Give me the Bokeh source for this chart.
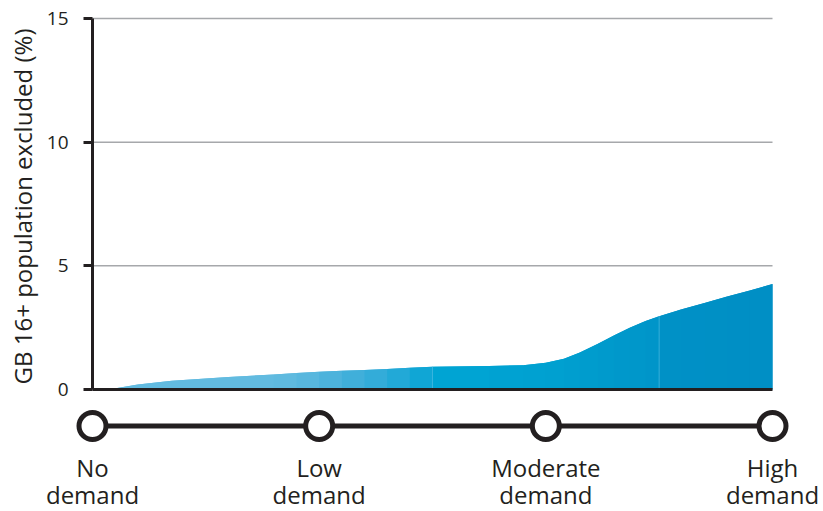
import math
from bokeh.plotting import figure
from bokeh.models import FixedTicker, Range1d, Label
from bokeh.core.properties import value
from bokeh.embed import file_html
from bokeh.resources import INLINE

# ---- data ----
levels = [0, 1, 2, 3]
level_labels = ["No\ndemand", "Low\ndemand", "Moderate\ndemand", "High\ndemand"]
demand = [0.0, 0.07, 0.2, 0.35, 0.6, 0.8, 0.9, 1.0, 1.1, 1.2, 1.3, 1.4, 1.5, 1.75, 1.9, 2.0,
          2.08, 2.15, 2.23, 2.3, 2.37, 2.44, 2.5, 2.6, 2.7, 2.8, 2.9, 3.0]
excluded = [0.0, 0.0, 0.2, 0.35, 0.51, 0.61, 0.67, 0.72, 0.76, 0.79, 0.83, 0.88, 0.92, 0.95,
            0.98, 1.08, 1.24, 1.5, 1.85, 2.18, 2.5, 2.77, 2.96, 3.24, 3.5, 3.76, 4.0, 4.27]
y_ticks = [0, 5, 10, 15]
grid_ticks = [5, 10, 15]
y_title = "GB 16+ population excluded (%)"

# ---- styles ----
seg_colors = ["#62bbe0", "#62bbe0", "#62bbe0", "#62bbe0", "#62bbe0", "#5fbadf", "#58b7de",
              "#4db3dc", "#40afda", "#33acd9", "#22a9d7", "#10a6d5", "#00a4d3", "#00a2d2",
              "#00a1d1",
              "#00a0d0", "#009ecf", "#009ccd", "#009acc", "#0098cb", "#0097ca", "#0095c9",
              "#0091c6", "#0090c6", "#0090c5", "#008fc5", "#008fc5"]
seam_color = "#4dbbe3"
INK = "#231f20"
FONT = "Open Sans"

W, H = 823, 511
p = figure(width=W, height=H, output_backend="svg", toolbar_location=None,
           x_range=Range1d(-0.4059, 3.2250), y_range=Range1d(-4.933, 15.728),
           min_border=0, outline_line_color=None, x_axis_location=None)
p.xgrid.visible = False
p.ygrid.visible = False

# gridlines
p.segment(x0=[levels[0]] * len(grid_ticks), x1=[levels[-1]] * len(grid_ticks),
          y0=grid_ticks, y1=grid_ticks, line_color="#a6a8ab", line_width=1.5)

# area (piecewise gradient; each piece overlaps the next one to hide seams)
n = len(demand)
for i in range(n - 1):
    j = min(i + 3, n)
    p.varea(x=demand[i:j], y1=[0] * (j - i), y2=excluded[i:j], fill_color=seg_colors[i])

# faint seams seen in the original artwork (at the 1.5 and 2.5 points)
seam_idx = [demand.index(1.5), demand.index(2.5)]
p.segment(x0=[demand[k] for k in seam_idx], x1=[demand[k] for k in seam_idx],
          y0=[0] * len(seam_idx), y1=[excluded[k] for k in seam_idx],
          line_color=seam_color, line_width=1, line_alpha=0.7)

# baseline
p.segment(x0=[levels[0]], x1=[levels[-1]], y0=[y_ticks[0]], y1=[y_ticks[0]],
          line_color=INK, line_width=3)

# y axis
ax = p.yaxis[0]
ax.fixed_location = 0
ax.bounds = (y_ticks[0], y_ticks[-1])
ax.ticker = FixedTicker(ticks=y_ticks)
ax.axis_line_color = INK
ax.axis_line_width = 3
ax.major_tick_line_color = INK
ax.major_tick_line_width = 3
ax.major_tick_out = 9
ax.major_tick_in = 0
ax.minor_tick_out = 0
ax.minor_tick_in = 0
ax.major_label_standoff = 15
ax.major_label_text_font = FONT
ax.major_label_text_font_size = "19px"
ax.major_label_text_color = INK

p.add_layout(Label(x=-0.309, y=7.4, text=y_title, angle=math.pi / 2,
                   text_align="center", text_baseline="middle",
                   text_font=FONT, text_font_size="24px", text_color=INK))

# timeline
tl_y = -1.476
p.line(x=levels, y=[tl_y] * len(levels), line_color=INK, line_width=5)
p.scatter(x=levels, y=[tl_y] * len(levels), marker="circle", size=27,
          fill_color="white", line_color=INK, line_width=5)

first = [s.split("\n")[0] for s in level_labels]
second = [s.split("\n")[1] for s in level_labels]
for words, yb in ((first, -3.154), (second, -4.26)):
    p.text(x=levels, y=[yb] * len(levels), text=words,
           text_align="center", text_baseline="alphabetic", text_font=value(FONT),
           text_font_size="24px", text_color=INK)

open("out.html", "w").write(file_html(p, INLINE))
